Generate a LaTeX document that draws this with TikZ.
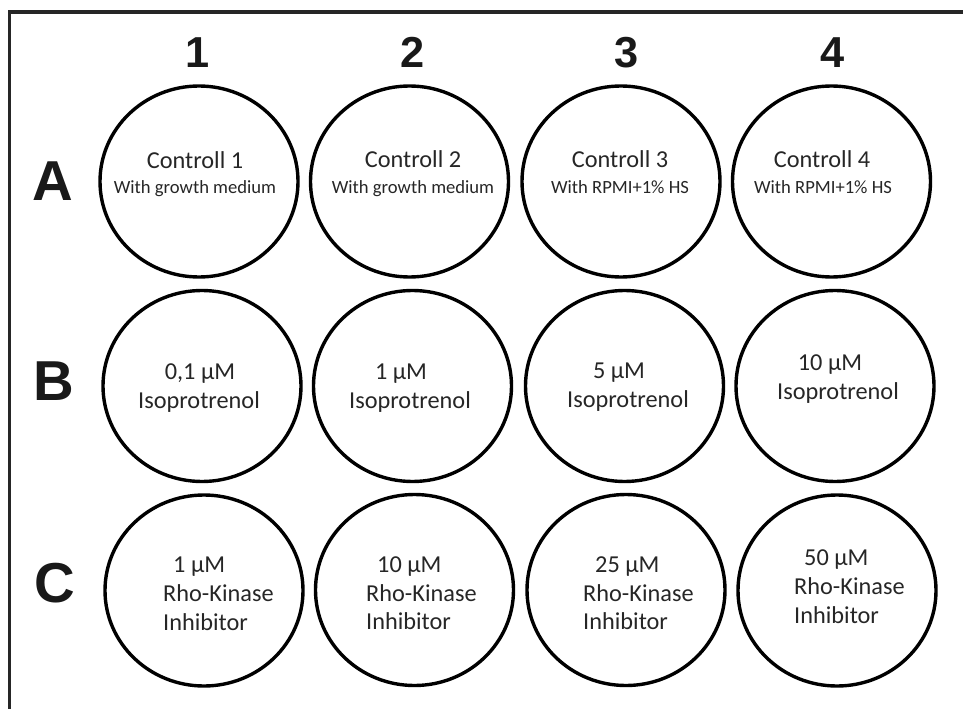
\documentclass[tikz,border=0pt]{standalone}
\usepackage{fontspec}
\usetikzlibrary{shapes.geometric}
\newfontfamily\wellfont{Carlito}
\newfontfamily\headfont{Liberation Sans}
\definecolor{txt}{HTML}{262626}
\tikzset{
  well/.style={draw=black, line width=3.4bp, ellipse, minimum width=198bp, minimum height=191bp, inner sep=0pt},
  main/.style={text=txt, inner sep=0pt, anchor=base, font=\wellfont\fontsize{24.4}{28}\selectfont},
  mainl/.style={main, anchor=base west},
  sub/.style={text=txt, inner sep=0pt, anchor=base, font=\wellfont\fontsize{18.7}{22}\selectfont},
  colhead/.style={text=black!90, inner sep=0pt, anchor=base, font=\headfont\bfseries\fontsize{43.5}{50}\selectfont},
  rowhead/.style={text=black!90, inner sep=0pt, anchor=base, font=\headfont\bfseries\fontsize{56.5}{62}\selectfont}
}
\begin{document}
\begin{tikzpicture}[x=1bp, y=-1bp]
\useasboundingbox (0,0) rectangle (963,709);
\begin{scope}
\clip (0,0) rectangle (963,709);
\draw[line width=3.6bp, black!85] (9.5,12) rectangle (990,740);
\end{scope}
% column headers
\node[colhead] (h1) at (198,68) {1};
\node[colhead] (h2) at (413,68) {2};
\node[colhead] (h3) at (627,68) {3};
\node[colhead] (h4) at (833,68) {4};
% row headers
\node[rowhead] (rA) at (53,200) {A};
\node[rowhead] (rB) at (54,400) {B};
\node[rowhead] (rC) at (55,602) {C};
% wells row A
\node[well] (A1) at (199,181.5) {};
\node[well] (A2) at (409.5,181.5) {};
\node[well] (A3) at (621,181.5) {};
\node[well] (A4) at (831.5,181.5) {};
% wells row B
\node[well] (B1) at (202,386) {};
\node[well] (B2) at (412.5,386) {};
\node[well] (B3) at (624.5,386) {};
\node[well] (B4) at (835,386) {};
% wells row C
\node[well] (C1) at (204,590.5) {};
\node[well] (C2) at (414.5,590) {};
\node[well] (C3) at (626,590) {};
\node[well] (C4) at (837,590.5) {};
% texts row A
\node[main] (A1a) at (195,169) {Controll 1};
\node[sub]  (A1b) at (195,193) {With growth medium};
\node[main] (A2a) at (413,168) {Controll 2};
\node[sub]  (A2b) at (413,193) {With growth medium};
\node[main] (A3a) at (620,168) {Controll 3};
\node[sub]  (A3b) at (620,193) {With RPMI+1\% HS};
\node[main] (A4a) at (822,168) {Controll 4};
\node[sub]  (A4b) at (823,193) {With RPMI+1\% HS};
% texts row B
\node[main] (B1a) at (200,379) {0,1 µM};
\node[main] (B1b) at (199,408) {Isoprotrenol};
\node[main] (B2a) at (401,379) {1 µM};
\node[main] (B2b) at (410,408) {Isoprotrenol};
\node[main] (B3a) at (619,378) {5 µM};
\node[main] (B3b) at (628,407) {Isoprotrenol};
\node[main] (B4a) at (830,370) {10 µM};
\node[main] (B4b) at (838,399) {Isoprotrenol};
% texts row C
\node[mainl] (C1a) at (173,572) {1 µM};
\node[mainl] (C1b) at (163,601) {Rho-Kinase};
\node[mainl] (C1c) at (163,630) {Inhibitor};
\node[mainl] (C2a) at (377,572) {10 µM};
\node[mainl] (C2b) at (366,601) {Rho-Kinase};
\node[mainl] (C2c) at (366,629) {Inhibitor};
\node[mainl] (C3a) at (595,572) {25 µM};
\node[mainl] (C3b) at (583,601) {Rho-Kinase};
\node[mainl] (C3c) at (583,629) {Inhibitor};
\node[mainl] (C4a) at (804,565) {50 µM};
\node[mainl] (C4b) at (794,594) {Rho-Kinase};
\node[mainl] (C4c) at (794,623) {Inhibitor};
\end{tikzpicture}
\end{document}
